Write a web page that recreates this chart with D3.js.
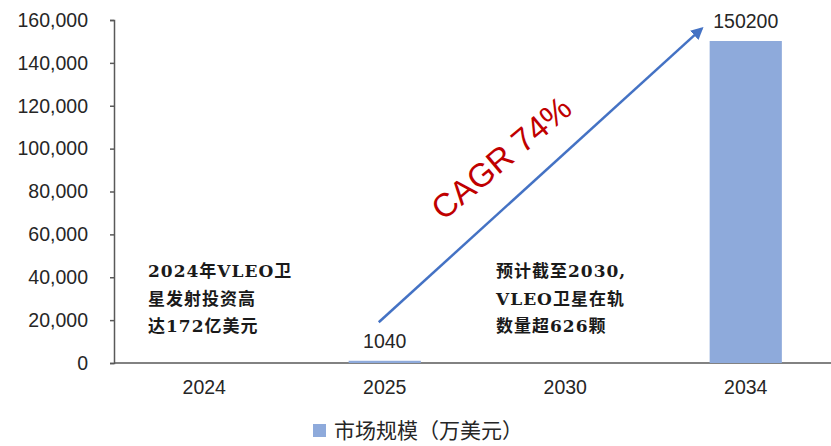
<!DOCTYPE html>
<html lang="zh">
<head>
<meta charset="UTF-8">
<title>VLEO 市场规模</title>
<script src="https://d3js.org/d3.v7.min.js"></script>
<style>
  body { margin: 0; background: #fff; }
  svg text { font-family: "Liberation Sans", Arial, sans-serif; }
</style>
</head>
<body>
<div id="chart"></div>
<script>
  // data
  const years = ["2024", "2025", "2030", "2034"];
  const values = [null, 1040, null, 150200];
  const yTicks = [0, 20000, 40000, 60000, 80000, 100000, 120000, 140000, 160000];
  const legendLabel = "市场规模（万美元）";
  const noteLeft = ["2024年VLEO卫", "星发射投资高", "达172亿美元"];
  const noteRight = ["预计截至2030,", "VLEO卫星在轨", "数量超626颗"];
  const cagrLabel = "CAGR 74%";

  const width = 831, height = 446;
  const margin = { top: 20, right: -5, bottom: 83, left: 114 };

  const svg = d3.select("#chart").append("svg")
    .attr("width", width)
    .attr("height", height);

  const x = d3.scaleBand()
    .domain(years)
    .range([margin.left, width - margin.right])
    .paddingInner(0.6)
    .paddingOuter(0.3);

  const y = d3.scaleLinear()
    .domain([0, 160000])
    .range([height - margin.bottom, margin.top]);

  const axisColor = "#595959";

  // y axis
  const yAxis = svg.append("g")
    .attr("transform", `translate(${margin.left},0)`)
    .call(d3.axisLeft(y).tickValues(yTicks).tickSize(4).tickPadding(22)
      .tickFormat(d3.format(",")));
  yAxis.selectAll("path, line").attr("stroke", axisColor).attr("stroke-width", 1.5);
  yAxis.selectAll("text").attr("font-size", 19.5).attr("fill", "#262626");

  // x axis
  const xAxis = svg.append("g")
    .attr("transform", `translate(0,${y(0)})`)
    .call(d3.axisBottom(x).tickSize(0).tickPadding(17));
  xAxis.select("path").attr("stroke", axisColor).attr("stroke-width", 1.5)
    .attr("d", `M${margin.left},0H${width + 5}`);
  xAxis.selectAll("text").attr("font-size", 19.5).attr("fill", "#262626");

  const barColor = "#8eaadb";
  const data = years.map((k, i) => ({ year: k, value: values[i] })).filter(d => d.value != null);

  svg.append("g").selectAll("rect")
    .data(data)
    .enter().append("rect")
    .attr("x", d => x(d.year))
    .attr("width", x.bandwidth())
    .attr("y", d => y(d.value))
    .attr("height", d => Math.max(1.5, y(0) - y(d.value)))
    .attr("fill", barColor);

  svg.append("g").selectAll("text")
    .data(data)
    .enter().append("text")
    .attr("x", d => x(d.year) + x.bandwidth() / 2)
    .attr("y", d => y(d.value) - 13)
    .attr("text-anchor", "middle")
    .attr("font-size", 19.5)
    .attr("fill", "#262626")
    .text(d => d.value);

  // growth arrow
  const arrowColor = "#4472c4";
  svg.append("defs").append("marker")
    .attr("id", "head")
    .attr("viewBox", "0 0 10 10")
    .attr("refX", 8).attr("refY", 5)
    .attr("markerWidth", 5).attr("markerHeight", 5)
    .attr("orient", "auto")
    .append("path")
    .attr("d", "M0,0L10,5L0,10z")
    .attr("fill", arrowColor);

  const x0 = x("2025") + x.bandwidth() / 2 - 6, y0 = y(19000);
  const x1 = x("2034") - 8, y1 = y(156000);
  svg.append("line")
    .attr("x1", x0).attr("y1", y0)
    .attr("x2", x1).attr("y2", y1)
    .attr("stroke", arrowColor)
    .attr("stroke-width", 2.5)
    .attr("marker-end", "url(#head)");

  svg.append("text")
    .attr("transform", `translate(503,160) rotate(-40)`)
    .attr("text-anchor", "middle")
    .attr("dominant-baseline", "middle")
    .attr("font-size", 33)
    .attr("fill", "#c00000")
    .text(cagrLabel);

  // notes
  function note(lines, left, top) {
    const t = svg.append("text")
      .attr("font-size", 17)
      .attr("font-weight", "bold")
      .attr("fill", "#1a1a1a")
      .style("font-family", '"DejaVu Serif", "Noto Sans CJK SC", serif')
      .style("letter-spacing", "1px");
    lines.forEach((s, i) => {
      t.append("tspan").attr("x", left).attr("y", top + i * 27.5).text(s);
    });
  }
  note(noteLeft, 148, 277);
  note(noteRight, 496, 277);

  // legend
  const lg = svg.append("g").attr("transform", "translate(313,424)");
  lg.append("rect").attr("width", 13).attr("height", 13).attr("fill", barColor);
  lg.append("text")
    .attr("x", 21).attr("y", 14)
    .attr("font-size", 21)
    .attr("fill", "#262626")
    .style("font-family", '"Noto Sans CJK SC", sans-serif')
    .text(legendLabel);
</script>
</body>
</html>
